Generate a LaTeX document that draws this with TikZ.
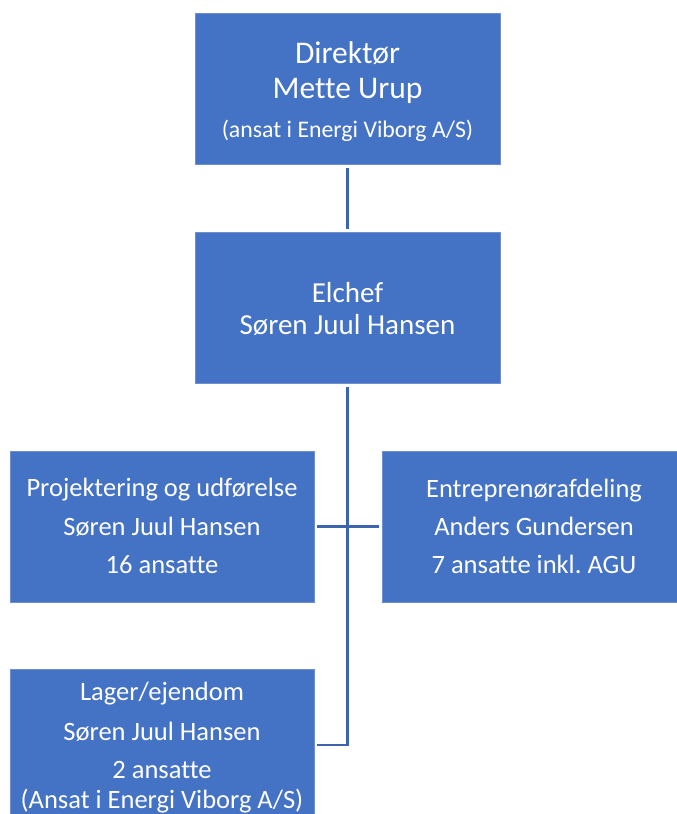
\documentclass[tikz,border=0pt]{standalone}
\usepackage{fontspec}
\setmainfont{Carlito}[Ligatures=NoCommon]
\definecolor{boxblue}{HTML}{4472C4}
\definecolor{boxedge}{HTML}{6F8FCF}
\definecolor{lineblue}{HTML}{3C65AE}
\begin{document}
\begin{tikzpicture}[x=1pt,y=-1pt,
  orgbox/.style={fill=boxblue,draw=boxedge,line width=0.8pt,rectangle,inner sep=0pt,
    minimum width=#1,minimum height=151pt},
  orgbox/.default=305pt,
  txt/.style={text=white,anchor=base,inner sep=0pt},
  big/.style={font=\fontsize{31.5}{36}\selectfont},
  mid/.style={font=\fontsize{29}{34}\selectfont},
  norm/.style={font=\fontsize{26.5}{30}\selectfont},
  small/.style={font=\fontsize{23.8}{28}\selectfont},
  conn/.style={draw=lineblue,line width=2.6pt}]
\useasboundingbox (0,0) rectangle (677,814);
\begin{scope}
\clip (0,0) rectangle (677,814);
% boxes
\node[orgbox] (dir) at (347.5,89) {};
\node[orgbox] (el) at (347.5,307.5) {};
\node[orgbox=304pt] (proj) at (162,526.5) {};
\node[orgbox=304pt] (entr) at (534,526.5) {};
\node[orgbox=304pt] (lager) at (162,745) {};
% connectors
\draw[conn,shorten <=3.5pt,shorten >=3pt] (dir.south) -- (el.north);
\draw[conn,line join=miter,shorten <=3.5pt,shorten >=3pt] (el.south) |- (lager.east);
\draw[conn,shorten <=3pt,shorten >=3pt] (proj.east) -- (entr.west);
% texts
\node[txt,big] (t1) at (347.5,63) {Direktør};
\node[txt,big] (t2) at (347.5,98) {Mette Urup};
\node[txt,small] (t3) at (347.5,137) {(ansat i Energi Viborg A/S)};
\node[txt,mid] (t4) at (347.5,302) {Elchef};
\node[txt,mid] (t5) at (347.5,334) {Søren Juul Hansen};
\node[txt,norm] (t6) at (162,496) {Projektering og udførelse};
\node[txt,norm] (t7) at (162,535) {Søren Juul Hansen};
\node[txt,norm] (t8) at (162,573) {16 ansatte};
\node[txt,norm] (t9) at (534,497) {Entreprenørafdeling};
\node[txt,norm] (t10) at (534,535) {Anders Gundersen};
\node[txt,norm] (t11) at (534,573) {7 ansatte inkl.\ AGU};
\node[txt,norm] (t12) at (162,700) {Lager/ejendom};
\node[txt,norm] (t13) at (162,740) {Søren Juul Hansen};
\node[txt,norm] (t14) at (162,778) {2 ansatte};
\node[txt,norm] (t15) at (162,808) {(Ansat i Energi Viborg A/S)};
\end{scope}
\end{tikzpicture}
\end{document}
